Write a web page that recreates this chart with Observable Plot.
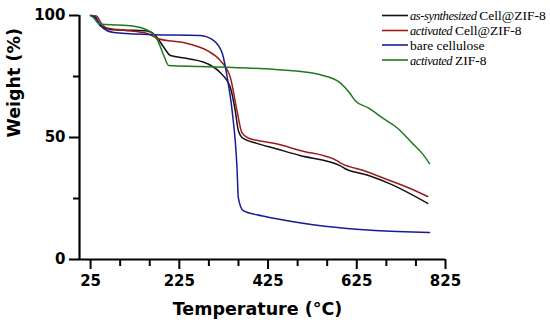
<!DOCTYPE html>
<html><head><meta charset="utf-8">
<script src="https://cdn.jsdelivr.net/npm/d3@7"></script>
<script src="https://cdn.jsdelivr.net/npm/@observablehq/plot@0.6"></script>
<style>
body{margin:0;background:#fff}
#wrap{position:relative;width:550px;height:334px}
svg text.legtxt, svg text.legtxt tspan{font-family:"Liberation Serif","Times New Roman",serif !important;font-weight:normal !important}
</style>
</head><body><div id="wrap"></div>
<script>
// Series data: temperature (°C) and weight (%)
const blackT = [25,35,47,70,110,153,171,190,205,243,288,317,340,351,358,369,400,441,497,587,598,650,699,785];
const blackW = [100,99.6,95.7,94.3,94,93.6,91.8,87,83.6,82.4,80.3,76.6,70.5,61,52.9,49.6,47.6,45.5,42.6,38.5,37.3,34.5,31.1,23];
const redT = [25,38,50,60,100,153,176,243,288,317,340,355,366,380,441,497,580,591,640,699,740,785];
const redW = [100,99.8,96.5,95,94,92.6,90.6,88.5,85.6,81.6,74.6,61,52,49.8,47.5,44.7,40.5,39.3,36.5,32.4,29.5,25.8];
const blueT = [25,35,54,77,153,272,302,322,333,344,355,358,369,400,441,553,666,789];
const blueW = [100,99,94.7,93,92.2,91.8,89.8,84.4,74.6,61,37.7,25.4,20,18.3,16.8,13.6,11.9,11.1];
const greenT = [25,32,43,60,108,144,165,176,190,201,272,441,475,549,587,610,621,650,688,715,751,773,789];
const greenW = [100,99,96.7,96.3,95.9,94.7,92.5,89.8,83.6,79.5,79.1,77.9,77.5,75.4,72.5,68,65.2,62.2,57.4,54.1,47.5,43.4,39.3];

const seriesItalic = ["as-synthesized","activated","","activated"];
const seriesRest = ["Cell@ZIF-8","Cell@ZIF-8","bare cellulose","ZIF-8"];
const seriesNames = seriesItalic.map((a, i) => (a ? a + " " : "") + seriesRest[i]);
const seriesColors = ["#111111","#9e1b1b","#1b1b96","#1f7a1f"];
const xMajor = [25,225,425,625,825];
const xMinor = [91.67,158.33,291.67,358.33,491.67,558.33,691.67,758.33];
const yMajor = [0,50,100];
const yMinor = [25,75];
const xLabel = "Temperature (°C)";
const yLabel = "Weight (%)";

const allT = [blackT, redT, blueT, greenT];
const allW = [blackW, redW, blueW, greenW];
const rows = allT.map((ts, i) => ts.map((t, j) => ({T: t, W: allW[i][j], s: seriesNames[i]})));

const chart = Plot.plot({
  width: 550, height: 334,
  marginLeft: 79, marginRight: 105, marginTop: 15, marginBottom: 75,
  x: {domain: [0, 825]},
  y: {domain: [0, 100]},
  style: {fontFamily: "'DejaVu Sans', 'Liberation Sans', sans-serif", fontWeight: "bold", fontSize: "15px", color: "#000", background: "#fff"},
  marks: [
    ...rows.map((r, i) => Plot.line(r, {x: "T", y: "W", stroke: seriesColors[i], strokeWidth: 1.5, curve: "monotone-x"})),
    Plot.ruleY([0], {strokeWidth: 2.2}),
    Plot.ruleX([0], {strokeWidth: 2.2}),
    Plot.axisX({ticks: xMajor, tickSize: 10, tickPadding: 6, strokeWidth: 2, label: null, fontSize: 15}),
    Plot.axisX({ticks: xMinor, tickSize: 7, strokeWidth: 2, label: null, tickFormat: () => ""}),
    Plot.axisY({ticks: yMajor, tickSize: 10, tickPadding: 4, strokeWidth: 2, label: null, fontSize: 15}),
    Plot.axisY({ticks: yMinor, tickSize: 6, strokeWidth: 2, label: null, tickFormat: () => ""}),
    Plot.text([xLabel], {frameAnchor: "bottom", dy: 55, dx: -5, fontSize: 17.5, fontWeight: "bold"}),
    Plot.text([yLabel], {frameAnchor: "left", dx: -65, rotate: -90, fontSize: 17.5, fontWeight: "bold"})
  ]
});
const wrap = document.getElementById("wrap");
wrap.appendChild(chart);

// Legend drawn into the SVG
const svg = d3.select(chart);
const leg = svg.append("g");
const legY = [15.5, 30.5, 45, 60];
seriesNames.forEach((name, i) => {
  leg.append("line").attr("x1", 382).attr("x2", 408).attr("y1", legY[i]).attr("y2", legY[i])
    .attr("stroke", seriesColors[i]).attr("stroke-width", 1.6);
  const t = leg.append("text").attr("class", "legtxt").attr("x", 410).attr("y", legY[i] + 4.5)
    .attr("fill", "#000").style("font-size", "13.5px").style("text-anchor", "start");
  if (seriesItalic[i]) {
    t.append("tspan").style("font-style", "italic").style("font-size", "12.5px")
      .style("letter-spacing", "-0.4px").text(seriesItalic[i] + " ");
  }
  t.append("tspan").style("letter-spacing", "0px").text(seriesRest[i]);
});
</script>
</body></html>
